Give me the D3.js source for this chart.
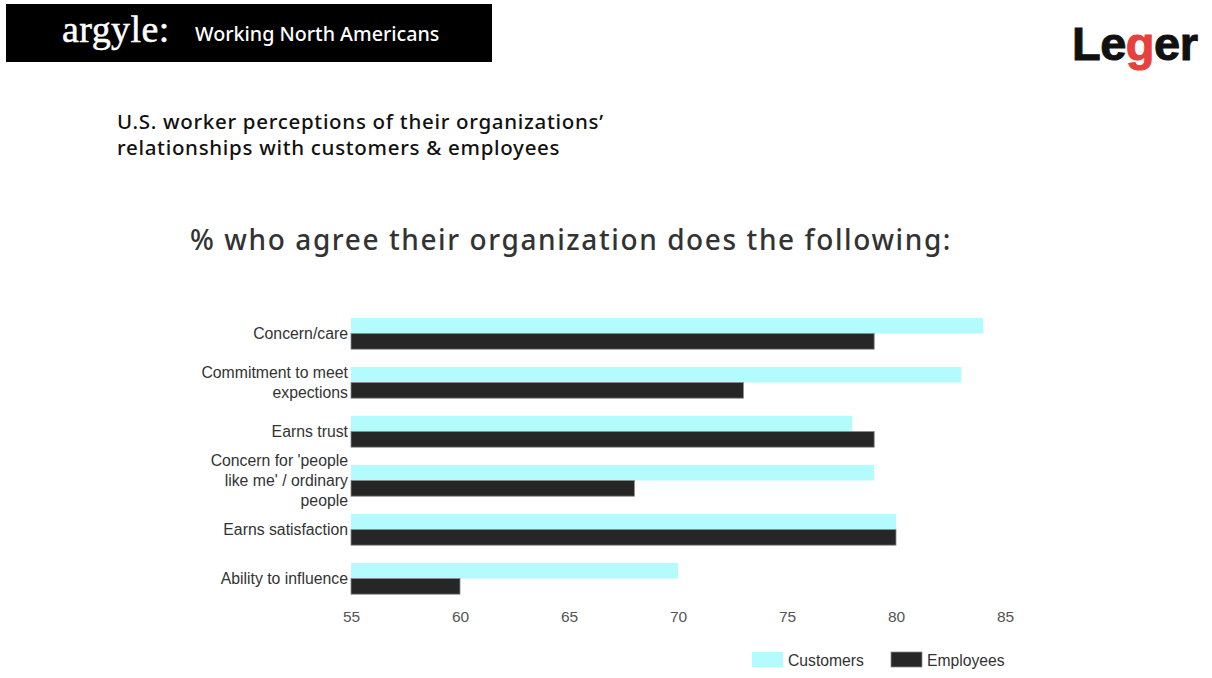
<!DOCTYPE html>
<html>
<head>
    <meta charset="utf-8">
    <title>Argyle - Working North Americans</title>
    <style type="text/css">
        html, body {
            margin: 0;
            padding: 0;
            background: #fff;
        }
        svg {
            display: block;
        }
        .cat text, .tick text {
            font-family: "Liberation Sans", Arial, sans-serif;
        }
    </style>
</head>
<body>
<svg id="svg" width="1212" height="678"></svg>

<script src="https://cdn.jsdelivr.net/npm/d3@7/dist/d3.min.js"></script>
<script type="text/javascript">
    // data
    var categories = [
        ['Concern/care'],
        ['Commitment to meet', 'expections'],
        ['Earns trust'],
        ["Concern for 'people", "like me' / ordinary", 'people'],
        ['Earns satisfaction'],
        ['Ability to influence']
    ];
    var customers = [84, 83, 78, 79, 80, 70];
    var employees = [79, 73, 79, 68, 80, 60];
    var seriesNames = ['Customers', 'Employees'];
    var seriesColors = ['#b3fbfd', '#262626'];
    var tickValues = [55, 60, 65, 70, 75, 80, 85];

    var svg = d3.select('#svg');

    // header bar
    svg.append('rect')
        .attr('x', 6).attr('y', 4)
        .attr('width', 486).attr('height', 58)
        .attr('fill', '#000');
    svg.append('text')
        .attr('x', 62).attr('y', 42)
        .attr('fill', '#fff')
        .attr('stroke', '#fff')
        .attr('stroke-width', 0.5)
        .attr('font-family', '"Liberation Serif", "DejaVu Serif", serif')
        .attr('font-size', 38)
        .attr('letter-spacing', 0.4)
        .text('argyle:');
    svg.append('text')
        .attr('x', 195).attr('y', 41)
        .attr('fill', '#fff')
        .attr('font-family', '"Noto Sans", sans-serif')
        .attr('font-size', 19.7)
        .attr('font-weight', 500)
        .text('Working North Americans');

    // logo
    var logo = svg.append('text')
        .attr('x', 1072).attr('y', 60)
        .attr('font-family', '"Liberation Sans", Arial, sans-serif')
        .attr('font-weight', 'bold')
        .attr('font-size', 47)
        .attr('fill', '#111')
        .attr('stroke', '#111')
        .attr('stroke-width', 1)
        .attr('letter-spacing', -0.5);
    logo.append('tspan').text('Le');
    logo.append('tspan').attr('fill', '#e8403a').attr('stroke', '#e8403a').text('g');
    logo.append('tspan').text('er');

    // titles
    var sub = svg.append('text')
        .attr('font-family', '"Noto Sans", sans-serif')
        .attr('font-size', 20.5)
        .attr('font-weight', 500)
        .attr('letter-spacing', 0.7)
        .attr('fill', '#111');
    sub.append('tspan').attr('x', 117).attr('y', 129)
        .text('U.S. worker perceptions of their organizations\u2019');
    sub.append('tspan').attr('x', 117).attr('y', 155)
        .text('relationships with customers & employees');

    svg.append('text')
        .attr('x', 190).attr('y', 250)
        .attr('font-family', '"Noto Sans", sans-serif')
        .attr('font-size', 28)
        .attr('font-weight', 500)
        .attr('letter-spacing', 1.6)
        .attr('fill', '#333')
        .text('% who agree their organization does the following:');

    // scales
    var x = d3.scaleLinear().domain([55, 85]).range([351, 1005]);
    var y = d3.scaleBand()
        .domain(d3.range(categories.length))
        .range([309, 603])
        .paddingInner(0.36)
        .paddingOuter(0.18);
    var ySub = d3.scaleBand()
        .domain([0, 1])
        .range([0, y.bandwidth()]);

    var rows = categories.map(function (c, i) {
        return {i: i, label: c, values: [customers[i], employees[i]]};
    });

    var g = svg.selectAll('g.cat')
        .data(rows)
        .enter()
        .append('g')
        .attr('class', 'cat')
        .attr('transform', function (d) { return 'translate(0,' + y(d.i) + ')'; });

    g.selectAll('rect')
        .data(function (d) { return d.values; })
        .enter()
        .append('rect')
        .attr('x', x(55))
        .attr('y', function (d, j) { return ySub(j); })
        .attr('width', function (d) { return x(d) - x(55); })
        .attr('height', ySub.bandwidth())
        .attr('fill', function (d, j) { return seriesColors[j]; })
        .attr('stroke', function (d, j) { return j === 1 ? '#8a8a8a' : 'none'; })
        .attr('stroke-width', 0.8);

    // category labels, centred on the pair of bars
    g.append('text')
        .attr('text-anchor', 'end')
        .attr('font-size', 15.8)
        .attr('fill', '#333')
        .each(function (d) {
            var t = d3.select(this);
            var lh = 20.5;
            var top = y.bandwidth() / 2 - (d.label.length - 1) * lh / 2 + 5.5;
            d.label.forEach(function (line, k) {
                t.append('tspan')
                    .attr('x', 348)
                    .attr('y', top + k * lh)
                    .text(line);
            });
        });

    // x axis (labels only)
    var axis = svg.append('g')
        .attr('transform', 'translate(0,606)')
        .call(d3.axisBottom(x).tickValues(tickValues).tickSize(0).tickPadding(5));
    axis.select('.domain').remove();
    axis.selectAll('text')
        .attr('font-size', 15.5)
        .attr('fill', '#555');

    // legend
    var legX = [752, 891];
    var leg = svg.selectAll('g.leg')
        .data(seriesNames)
        .enter()
        .append('g')
        .attr('class', 'leg')
        .attr('transform', function (d, i) { return 'translate(' + legX[i] + ',652)'; });
    leg.append('rect')
        .attr('width', 31).attr('height', 15)
        .attr('fill', function (d, i) { return seriesColors[i]; })
        .attr('stroke', function (d, i) { return i === 1 ? '#8a8a8a' : 'none'; })
        .attr('stroke-width', 0.8);
    leg.append('text')
        .attr('x', 36).attr('y', 13.5)
        .attr('font-family', '"Liberation Sans", Arial, sans-serif')
        .attr('font-size', 15.7)
        .attr('fill', '#333')
        .text(function (d) { return d; });
</script>
</body>
</html>
